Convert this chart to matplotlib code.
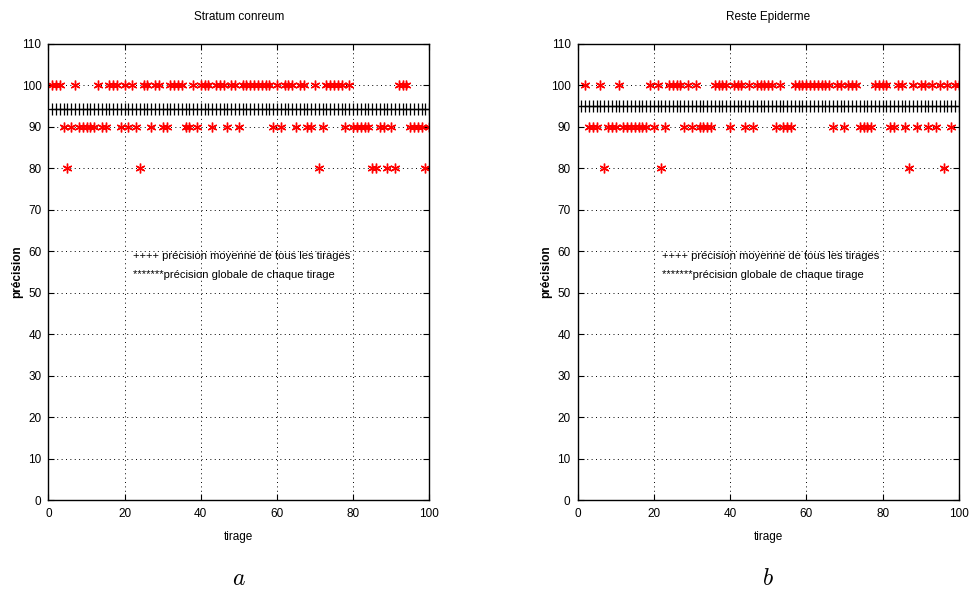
import numpy as np
import matplotlib.pyplot as plt

plt.rcParams['font.family'] = ['Liberation Sans', 'DejaVu Sans']
plt.rcParams['mathtext.fontset'] = 'cm'

titles = ['Stratum conreum', 'Reste Epiderme']
letters = ['$a$', '$b$']

# precision of each draw (tirage 1..100)
prec_a = [100, 100, 100, 90, 80, 90, 100, 90, 90, 90,
          90, 90, 100, 90, 90, 100, 100, 100, 90, 100,
          90, 100, 90, 80, 100, 100, 90, 100, 100, 90,
          90, 100, 100, 100, 100, 90, 90, 100, 90, 100,
          100, 100, 90, 100, 100, 100, 90, 100, 100, 90,
          100, 100, 100, 100, 100, 100, 100, 100, 90, 100,
          90, 100, 100, 100, 90, 100, 100, 90, 90, 100,
          80, 90, 100, 100, 100, 100, 100, 90, 100, 90,
          90, 90, 90, 90, 80, 80, 90, 90, 80, 90,
          80, 100, 100, 100, 90, 90, 90, 90, 80, 90]
tirage_a = list(range(1, 101))

# first draw not visible on the right plot
prec_b = [100, 90, 90, 90, 100, 80, 90, 90, 90,
          100, 90, 90, 90, 90, 90, 90, 90, 100, 90,
          100, 80, 90, 100, 100, 100, 100, 90, 100, 90,
          100, 90, 90, 90, 90, 100, 100, 100, 100, 90,
          100, 100, 100, 90, 100, 90, 100, 100, 100, 100,
          100, 90, 100, 90, 90, 90, 100, 100, 100, 100,
          100, 100, 100, 100, 100, 100, 90, 100, 100, 90,
          100, 100, 100, 90, 90, 90, 90, 100, 100, 100,
          100, 90, 90, 100, 100, 90, 80, 100, 90, 100,
          100, 90, 100, 90, 100, 80, 100, 90, 100, 100]
tirage_b = list(range(2, 101))

mean_x = list(range(1, 101))

fig = plt.figure(figsize=(9.69, 5.9), dpi=100)
positions = [[0.050, 0.1525, 0.393, 0.773], [0.596, 0.1525, 0.3935, 0.773]]
asterisk = (6, 2, 0)

for pos, title, letter, tx, py in zip(positions, titles, letters,
                                      [tirage_a, tirage_b], [prec_a, prec_b]):
    ax = fig.add_axes(pos)
    m = np.mean(py)
    ax.plot(mean_x, [m] * len(mean_x), linestyle='none', marker='+', color='k',
            markersize=8, markeredgewidth=0.9)
    ax.plot(tx, py, linestyle='none', marker=asterisk, color='red',
            markersize=7, markeredgewidth=1.0)
    ax.set_xlim(0, 100)
    ax.set_ylim(0, 110)
    ax.set_xticks(range(0, 101, 20))
    ax.set_yticks(range(0, 111, 10))
    ax.grid(True, linestyle=(0, (1, 3.5)), color='k', linewidth=0.7)
    ax.tick_params(direction='in', top=True, right=True, labelsize=8.5, length=4, width=0.8)
    ax.tick_params(axis='x', pad=6)
    ax.tick_params(axis='y', pad=5)
    for s in ax.spines.values():
        s.set_linewidth(1.0)
    ax.set_title(title, fontsize=8.5, pad=17)
    ax.set_xlabel('tirage', fontsize=8.5, labelpad=8)
    ax.set_ylabel('précision', fontsize=8.5, fontweight='bold', labelpad=-1)
    ax.text(22.2, 58.9, '++++ précision moyenne de tous les tirages', fontsize=8, va='center')
    ax.text(22.2, 54.3, '*******précision globale de chaque tirage', fontsize=8, va='center')
    ax.text(50, -19, letter, fontsize=17, ha='center', va='center', clip_on=False)

fig.savefig('out.png', dpi=100)
